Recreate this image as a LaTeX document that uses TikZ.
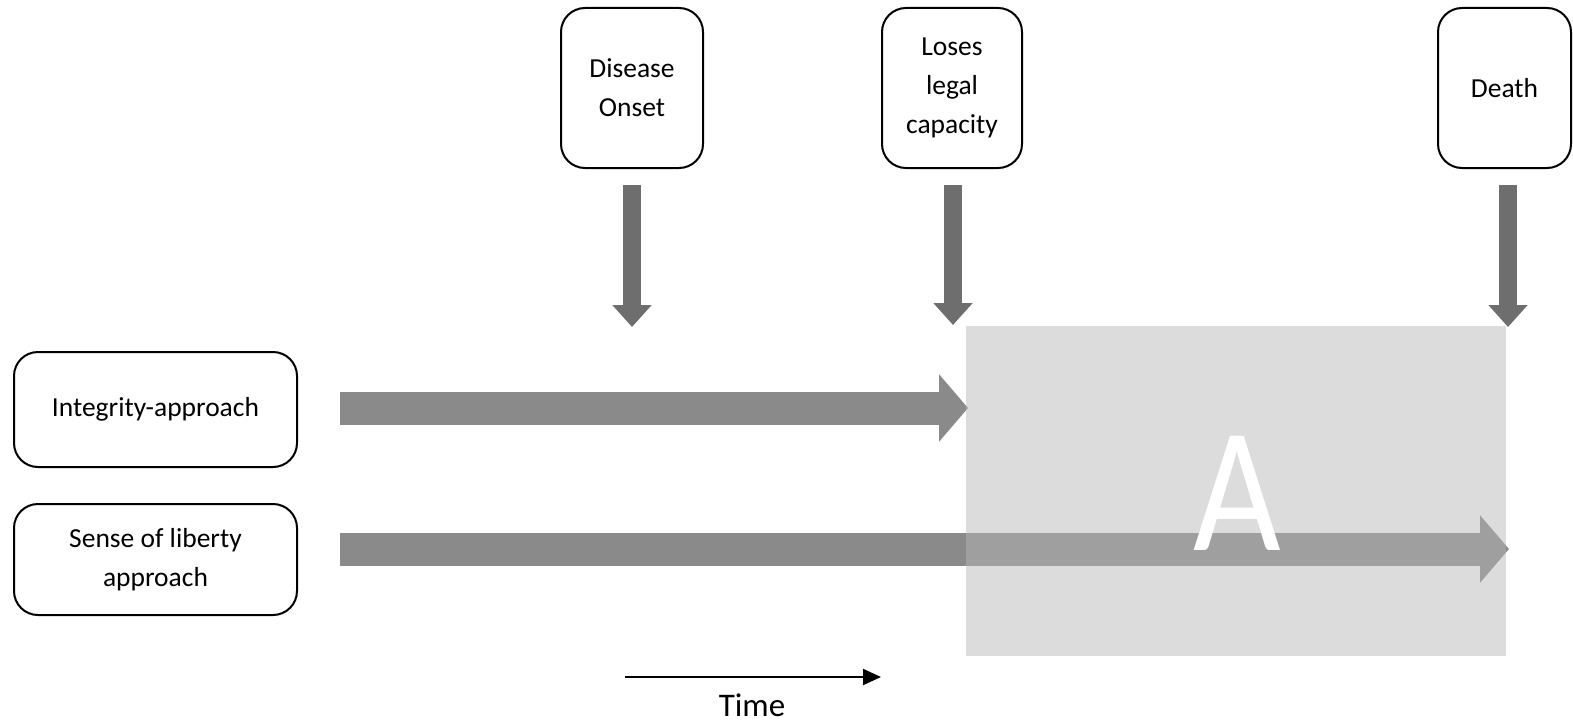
\documentclass[tikz,border=0pt]{standalone}
\usepackage{fontspec}
\setmainfont{Carlito}
\usetikzlibrary{arrows.meta,calc}
\definecolor{downgray}{HTML}{6E6E6E}
\definecolor{fatgray}{HTML}{8A8A8A}
\definecolor{shadegray}{HTML}{B6B6B6}
\begin{document}
\begin{tikzpicture}[x=1pt,y=-1pt,
  evbox/.style={draw=black, line width=2pt, rounded corners=24pt, fill=white,
    align=center, inner sep=0pt, font=\fontsize{27.5}{39}\selectfont},
  downarr/.style={draw=downgray, line width=18pt,
    -{Triangle[width=38pt,length=22pt]}},
  fatarr/.style={draw=fatgray, line width=33pt,
    -{Triangle[width=66pt,length=29pt]}},
  timearr/.style={draw=black, line width=2pt,
    -{Triangle[width=16pt,length=18pt]}}
]
\useasboundingbox (0,0) rectangle (1573,725);

% event boxes
\node[evbox, minimum width=142pt, minimum height=160pt] (disease) at (632,88) {Disease\\Onset};
\node[evbox, minimum width=140pt, minimum height=160pt] (loses) at (952,88) {Loses\\legal\\capacity};
\node[evbox, minimum width=133pt, minimum height=160pt] (death) at (1504.5,88) {Death};

% approach boxes
\node[evbox, minimum width=283pt, minimum height=115pt] (integ) at (155.5,409.5) {Integrity-approach};
\node[evbox, minimum width=283pt, minimum height=111pt] (liberty) at (155.5,559.5) {Sense of liberty\\approach};

% tips
\coordinate (t1) at (632,327);
\coordinate (t2) at (953,325);
\coordinate (t3) at (1508,327);
\coordinate (s1) at (340,408);
\coordinate (e1) at (968,408);
\coordinate (s2) at (340,549);
\coordinate (e2) at (1509,549);

% down arrows
\draw[downarr] ($(disease.south)+(0,16)$) -- (t1);
\draw[downarr] ($(loses.south)+(1,16)$) -- (t2);
\draw[downarr] ($(death.south)+(3.5,16)$) -- (t3);

% horizontal arrows
\draw[fatarr] (s1) -- (e1);
\draw[fatarr] (s2) -- (e2);

% shaded region A
\fill[shadegray, fill opacity=0.48] (966,326) rectangle (1506,656);
\node[anchor=base, inner sep=0pt, text=white, xscale=0.85,
  font=\fontsize{178}{178}\selectfont] (A) at (1237,550) {A};

% time arrow
\coordinate (ts) at (625,677);
\coordinate (te) at (881,677);
\draw[timearr] (ts) -- (te);
\node[font=\fontsize{33}{33}\selectfont, anchor=base, inner sep=0pt] (time) at (752,716) {Time};
\end{tikzpicture}
\end{document}
